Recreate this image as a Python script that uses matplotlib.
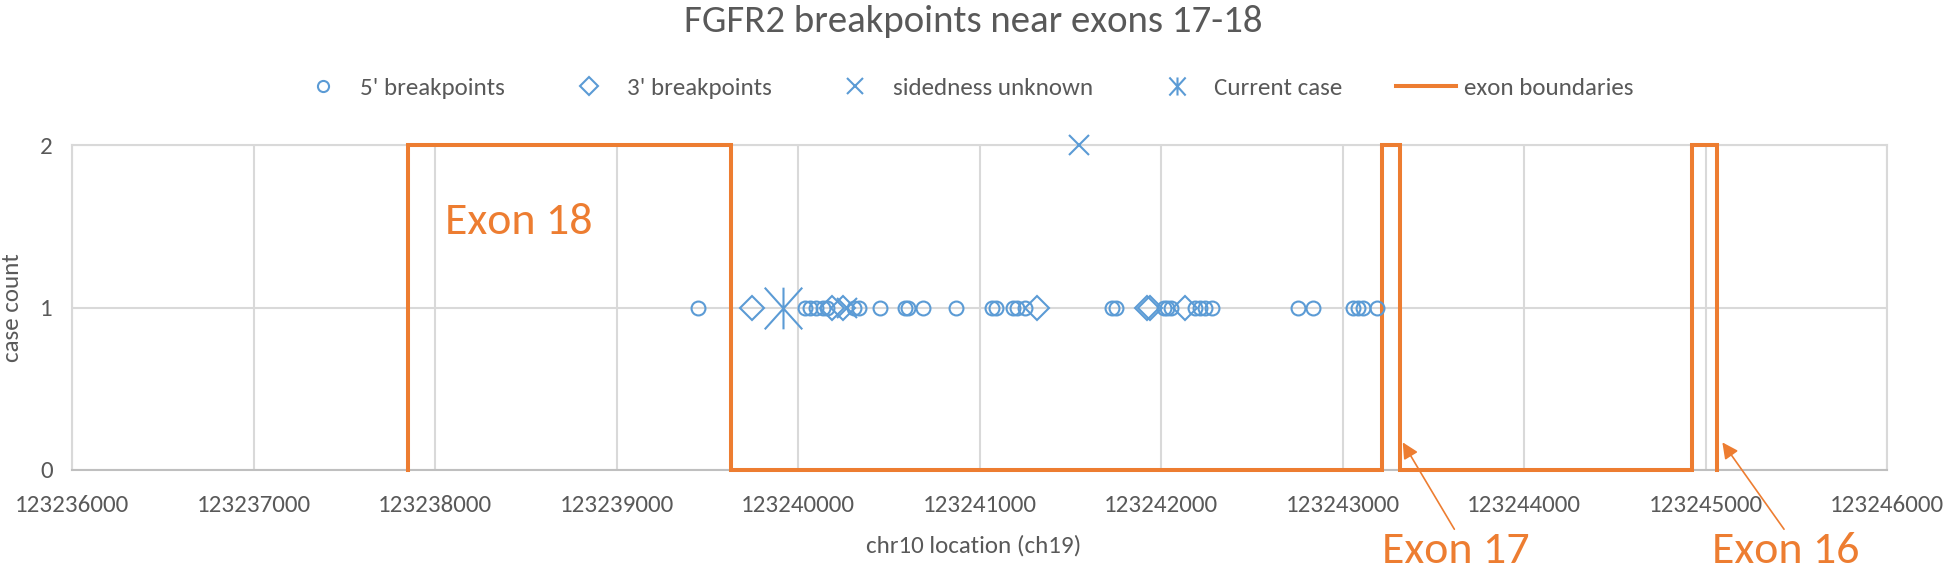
import matplotlib
matplotlib.use("Agg")
import matplotlib.pyplot as plt
from matplotlib.lines import Line2D
from matplotlib.path import Path

# ---------------- data ----------------
five_prime_x = [123239449, 123240038, 123240066, 123240099, 123240138, 123240160,
                123240308, 123240336, 123240452, 123240589, 123240606, 123240689,
                123240870, 123241069, 123241091, 123241184, 123241207, 123241251,
                123241730, 123241752, 123242016, 123242033, 123242055, 123242187,
                123242215, 123242242, 123242281, 123242755, 123242837, 123243058,
                123243085, 123243113, 123243190]
five_prime_y = [1] * len(five_prime_x)

three_prime_x = [123239747, 123240187, 123240248, 123241317, 123241923, 123241940, 123242132]
three_prime_y = [1] * len(three_prime_x)

unknown_x = [123240270, 123241548]
unknown_y = [1, 2]

current_x = [123239919]
current_y = [1]

exon_names = ["Exon 18", "Exon 17", "Exon 16"]
exon_starts = [123237850, 123243216, 123244926]
exon_ends = [123239629, 123243317, 123245063]
exon_height = 2

x_ticks = list(range(123236000, 123246001, 1000))
y_ticks = [0, 1, 2]

title = "FGFR2 breakpoints near exons 17-18"
x_label = "chr10 location (ch19)"
y_label = "case count"
legend_labels = ["5' breakpoints", "3' breakpoints", "sidedness unknown", "Current case", "exon boundaries"]

# ---------------- style ----------------
BLUE = "#5B9BD5"
ORANGE = "#ED7D31"
TEXT = "#595959"
GRID = "#D9D9D9"
FONT = ["Carlito", "DejaVu Sans"]
plt.rcParams["font.family"] = FONT

W, H = 1949, 578
fig = plt.figure(figsize=(W / 100, H / 100), dpi=100)
L, R, T, B = 72, 1887, 145, 470
ax = fig.add_axes([L / W, 1 - B / H, (R - L) / W, (B - T) / H])

# exon boundary step line
ex_x, ex_y = [], []
for s, e in zip(exon_starts, exon_ends):
    ex_x += [s, s, e, e]
    ex_y += [0, exon_height, exon_height, 0]
ax.plot(ex_x, ex_y, color=ORANGE, lw=2.9, solid_joinstyle="miter", zorder=3, clip_on=False)

star = Path([(-0.45, -0.5), (0.45, 0.5), (-0.45, 0.5), (0.45, -0.5), (0, -0.5), (0, 0.5)],
            [Path.MOVETO, Path.LINETO, Path.MOVETO, Path.LINETO, Path.MOVETO, Path.LINETO])

ax.plot(five_prime_x, five_prime_y, ls="none", marker="o", ms=10, mfc="none",
        mec=BLUE, mew=1.5, zorder=4, clip_on=False)
ax.plot(three_prime_x, three_prime_y, ls="none", marker="D", ms=12.5, mfc="none",
        mec=BLUE, mew=1.5, zorder=4, clip_on=False)
ax.plot(unknown_x, unknown_y, ls="none", marker="x", ms=14.5, mec=BLUE, mew=1.5,
        zorder=4, clip_on=False)
ax.plot(current_x, current_y, ls="none", marker=star, ms=30, mec=BLUE, mew=1.5,
        zorder=4, clip_on=False)

ax.set_xlim(x_ticks[0], x_ticks[-1])
ax.set_ylim(y_ticks[0], y_ticks[-1])
ax.set_xticks(x_ticks)
ax.set_xticklabels([str(t) for t in x_ticks])
ax.set_yticks(y_ticks)
ax.grid(True, color=GRID, lw=1.5, zorder=0)
ax.set_axisbelow(True)
for sp in ax.spines.values():
    sp.set_color(GRID)
    sp.set_linewidth(1.5)
ax.spines["bottom"].set_color("#BFBFBF")
ax.tick_params(axis="both", length=0, labelsize=18, labelcolor=TEXT)
ax.tick_params(axis="x", pad=18)
ax.tick_params(axis="y", pad=14)

ax.set_xlabel(x_label, fontsize=18, color=TEXT)
ax.xaxis.set_label_coords(0.497, -0.2)
fig.text(13 / W, 1 - 308 / H, y_label, rotation=90, ha="center", va="center",
         fontsize=18, color=TEXT)

fig.text(973 / W, 1 - 21 / H, title, ha="center", va="center", fontsize=28, color=TEXT)

handles = [
    Line2D([], [], ls="none", marker="o", ms=8, mfc="none", mec=BLUE, mew=1.5),
    Line2D([], [], ls="none", marker="D", ms=9, mfc="none", mec=BLUE, mew=1.5),
    Line2D([], [], ls="none", marker="x", ms=11, mec=BLUE, mew=1.5),
    Line2D([], [], ls="none", marker=star, ms=13, mec=BLUE, mew=1.5),
    Line2D([], [], color=ORANGE, lw=2.9),
]
fig.legend(handles, legend_labels, loc="center", bbox_to_anchor=(963 / W, 1 - 88 / H),
           ncol=5, frameon=False, fontsize=18, labelcolor=TEXT, handlelength=2.4,
           handletextpad=0.3, columnspacing=2.15)

# exon labels
ax.text(123238055, 1.526, exon_names[0], ha="left", va="center", fontsize=33, color=ORANGE)
arrow_kw = dict(arrowstyle="-|>", color=ORANGE, lw=1.2, mutation_scale=24,
                shrinkA=0, shrinkB=0, relpos=(0.5, 1.0))
ax.annotate(exon_names[1], xy=(exon_ends[1] + 15, 0.17), xycoords="data",
            xytext=(1456, H - 551), textcoords="figure pixels", ha="center", va="center",
            fontsize=33, color=ORANGE, arrowprops=arrow_kw, annotation_clip=False)
ax.annotate(exon_names[2], xy=(exon_ends[2] + 30, 0.17), xycoords="data",
            xytext=(1786, H - 551), textcoords="figure pixels", ha="center", va="center",
            fontsize=33, color=ORANGE, arrowprops=arrow_kw, annotation_clip=False)

fig.savefig("out.png", dpi=100)
